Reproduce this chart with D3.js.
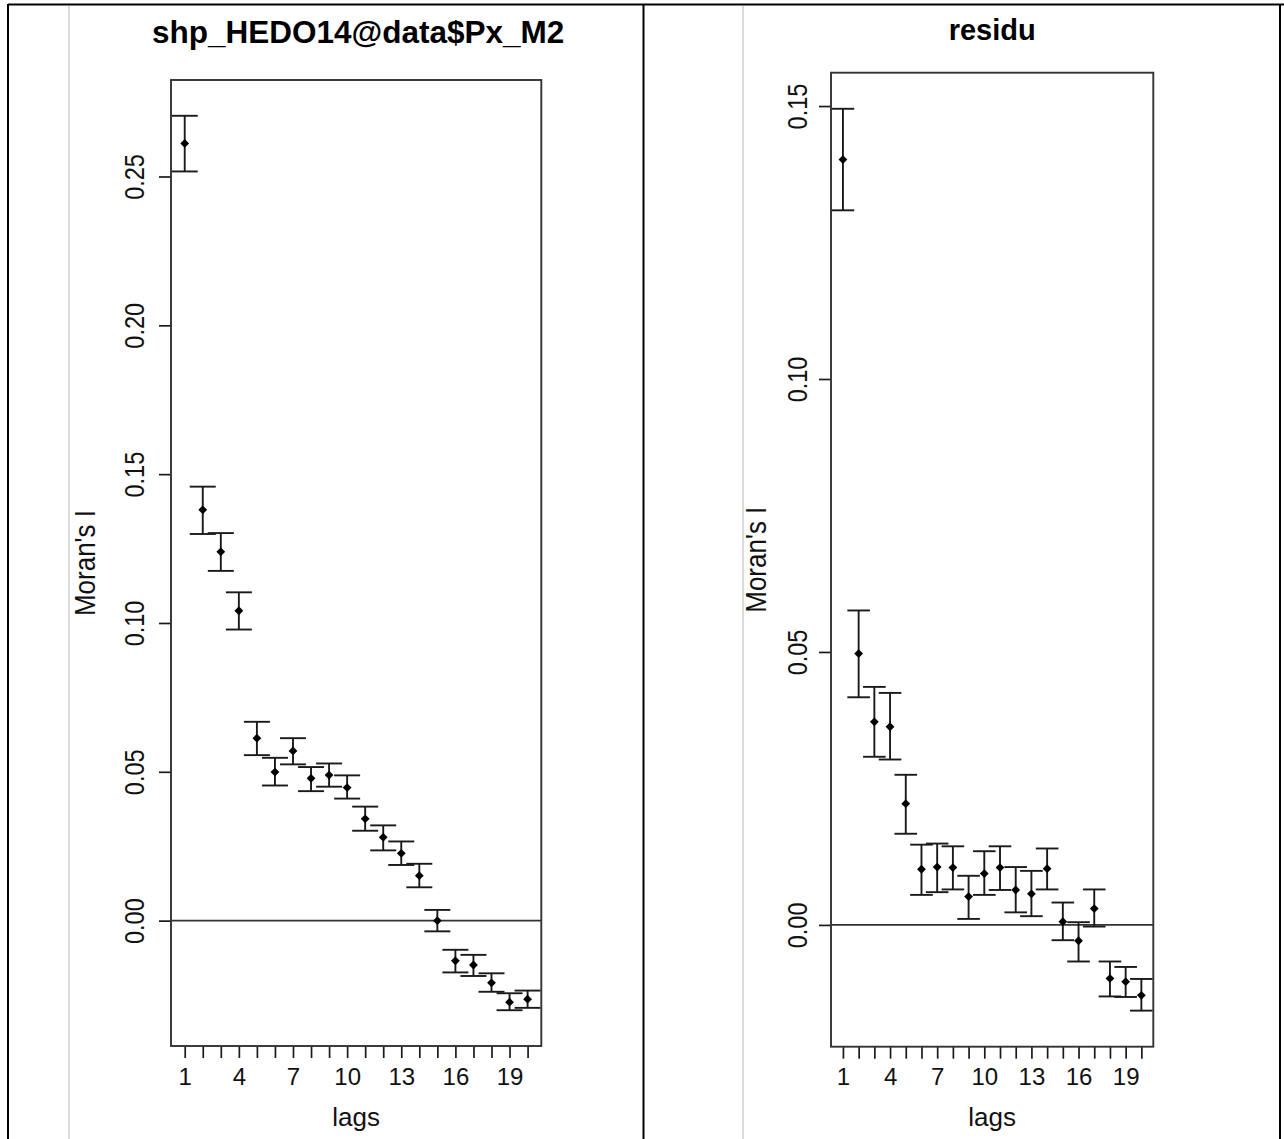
<!DOCTYPE html>
<html>
<head>
<meta charset="utf-8">
<script src="https://cdn.jsdelivr.net/npm/d3@7"></script>
<style>
  html, body { margin: 0; padding: 0; background: #fff; }
  svg { display: block; font-family: "Liberation Sans", Arial, sans-serif; }
</style>
</head>
<body>
<svg id="chart" width="1284" height="1139"></svg>
<script>
// ---------- data ----------
const lags = [1,2,3,4,5,6,7,8,9,10,11,12,13,14,15,16,17,18,19,20];
const lagTickLabels = [1,4,7,10,13,16,19];

const leftTitle = "shp_HEDO14@data$Px_M2";
const leftI     = [0.2611,0.1380,0.1239,0.1041,0.0613,0.0499,0.0570,0.0478,0.0489,0.0447,0.0342,0.0280,0.0226,0.0151,0.0000,-0.0135,-0.0149,-0.0209,-0.0274,-0.0264];
const leftLower = [0.2517,0.1299,0.1175,0.0978,0.0556,0.0454,0.0525,0.0435,0.0450,0.0410,0.0302,0.0236,0.0187,0.0112,-0.0036,-0.0174,-0.0186,-0.0239,-0.0301,-0.0293];
const leftUpper = [0.2704,0.1458,0.1302,0.1103,0.0668,0.0547,0.0613,0.0516,0.0528,0.0488,0.0383,0.0320,0.0266,0.0191,0.0036,-0.0098,-0.0115,-0.0177,-0.0244,-0.0235];
const leftYTicks = [0.00,0.05,0.10,0.15,0.20,0.25];

const rightTitle = "residu";
const rightI     = [0.1402,0.0497,0.0372,0.0363,0.0222,0.0102,0.0106,0.0105,0.0052,0.0094,0.0105,0.0064,0.0057,0.0103,0.0006,-0.0029,0.0030,-0.0098,-0.0104,-0.0129];
const rightLower = [0.1309,0.0417,0.0308,0.0303,0.0167,0.0055,0.0060,0.0065,0.0011,0.0055,0.0064,0.0023,0.0016,0.0065,-0.0028,-0.0067,-0.0003,-0.0131,-0.0132,-0.0157];
const rightUpper = [0.1495,0.0576,0.0436,0.0425,0.0275,0.0147,0.0149,0.0144,0.0090,0.0135,0.0144,0.0106,0.0099,0.0140,0.0041,0.0005,0.0065,-0.0067,-0.0077,-0.0099];
const rightYTicks = [0.00,0.05,0.10,0.15];

const yTitle = "Moran's I";
const xTitle = "lags";

// ---------- drawing ----------
const svg = d3.select("#chart");
const ink = "#1a1a1a";

// page frame (table borders)
const frame = svg.append("g");
frame.append("line").attr("x1",8).attr("x2",1284).attr("y1",4.5).attr("y2",4.5).attr("stroke","#000").attr("stroke-width",2);
frame.append("line").attr("x1",8).attr("x2",8).attr("y1",4).attr("y2",1139).attr("stroke","#000").attr("stroke-width",2);
frame.append("line").attr("x1",643.5).attr("x2",643.5).attr("y1",4).attr("y2",1139).attr("stroke","#000").attr("stroke-width",2);
frame.append("line").attr("x1",1280).attr("x2",1280).attr("y1",4).attr("y2",1139).attr("stroke","#000").attr("stroke-width",2);
frame.append("line").attr("x1",69).attr("x2",69).attr("y1",6).attr("y2",1139).attr("stroke","#cfcfcf").attr("stroke-width",1.5);
frame.append("line").attr("x1",743).attr("x2",743).attr("y1",6).attr("y2",1139).attr("stroke","#cfcfcf").attr("stroke-width",1.5);

function panel(cfg) {
  const g = svg.append("g");
  const lo = d3.min(cfg.lower), hi = d3.max(cfg.upper);
  const ext = (hi - lo) * 0.04;
  const xExt = (d3.max(lags) - d3.min(lags)) * 0.04;
  const x = d3.scaleLinear().domain([d3.min(lags) - xExt, d3.max(lags) + xExt]).range([cfg.left, cfg.right]);
  const y = d3.scaleLinear().domain([lo - ext, hi + ext]).range([cfg.bottom, cfg.top]);

  // y axis
  const ya = g.append("g").attr("transform", `translate(${cfg.left},0)`)
    .call(d3.axisLeft(y).tickValues(cfg.yTicks).tickSize(12).tickFormat(d3.format(".2f")));
  ya.select(".domain").remove();
  ya.selectAll(".tick line").attr("stroke", ink).attr("stroke-width", 1.7);
  ya.selectAll(".tick text")
    .attr("x", null).attr("dy", null)
    .attr("transform", `translate(${-cfg.yLabOff},0) scale(1.2,1) rotate(-90)`)
    .attr("text-anchor", "middle")
    .attr("font-size", 23.5).attr("fill", "#111")
    .attr("font-family", "Liberation Sans, Arial, sans-serif");

  // x axis
  const xa = g.append("g").attr("transform", `translate(0,${cfg.bottom})`)
    .call(d3.axisBottom(x).tickValues(lags).tickSize(12)
      .tickFormat(d => lagTickLabels.includes(d) ? String(d) : ""));
  xa.select(".domain").remove();
  xa.selectAll(".tick line").attr("stroke", ink).attr("stroke-width", 1.7);
  xa.selectAll(".tick text")
    .attr("y", 38.5).attr("dy", null)
    .attr("font-size", 24).attr("fill", "#111")
    .attr("font-family", "Liberation Sans, Arial, sans-serif");

  // zero line
  g.append("line")
    .attr("x1", cfg.left).attr("x2", cfg.right)
    .attr("y1", y(0)).attr("y2", y(0))
    .attr("stroke", "#333").attr("stroke-width", 1.7);

  // error bars
  const bars = g.append("g").attr("stroke", ink).attr("stroke-width", 1.9);
  lags.forEach((lag, i) => {
    const cx = x(lag);
    bars.append("line").attr("x1", cx).attr("x2", cx).attr("y1", y(cfg.lower[i])).attr("y2", y(cfg.upper[i]));
    bars.append("line").attr("x1", cx - cfg.cap).attr("x2", cx + cfg.cap).attr("y1", y(cfg.upper[i])).attr("y2", y(cfg.upper[i]));
    bars.append("line").attr("x1", cx - cfg.cap).attr("x2", cx + cfg.cap).attr("y1", y(cfg.lower[i])).attr("y2", y(cfg.lower[i]));
  });
  // points (filled diamonds)
  g.append("g").selectAll("path").data(cfg.I).join("path")
    .attr("d", (d, i) => {
      const cx = x(lags[i]), cy = y(d), r = 4.4;
      return `M${cx},${cy - r}L${cx + r},${cy}L${cx},${cy + r}L${cx - r},${cy}Z`;
    })
    .attr("fill", "#000");

  // box
  g.append("rect")
    .attr("x", cfg.left).attr("y", cfg.top)
    .attr("width", cfg.right - cfg.left).attr("height", cfg.bottom - cfg.top)
    .attr("fill", "none").attr("stroke", "#333").attr("stroke-width", 1.9);

  // titles
  g.append("text").attr("x", (cfg.left + cfg.right) / 2 + cfg.titleDx).attr("y", cfg.titleY)
    .attr("text-anchor", "middle").attr("font-size", cfg.titleSize).attr("font-weight", "bold")
    .attr("fill", "#000").text(cfg.title);
  g.append("text").attr("x", (cfg.left + cfg.right) / 2).attr("y", 1126)
    .attr("text-anchor", "middle").attr("font-size", 26).attr("fill", "#111").text(xTitle);
  g.append("text")
    .attr("transform", `translate(${cfg.yTitleX},${(cfg.top + cfg.bottom) / 2}) scale(1.15,1) rotate(-90)`)
    .attr("text-anchor", "middle").attr("font-size", 26).attr("fill", "#111").text(yTitle);
}

panel({
  title: leftTitle, I: leftI, lower: leftLower, upper: leftUpper, yTicks: leftYTicks,
  left: 171, right: 541.3, top: 80, bottom: 1046,
  cap: 13, yLabOff: 27, yTitleX: 95, titleY: 43, titleSize: 31.5, titleDx: 2
});
panel({
  title: rightTitle, I: rightI, lower: rightLower, upper: rightUpper, yTicks: rightYTicks,
  left: 831, right: 1153.3, top: 72.7, bottom: 1046.7,
  cap: 11.3, yLabOff: 24.5, yTitleX: 766, titleY: 40, titleSize: 29, titleDx: 0
});
</script>
</body>
</html>
